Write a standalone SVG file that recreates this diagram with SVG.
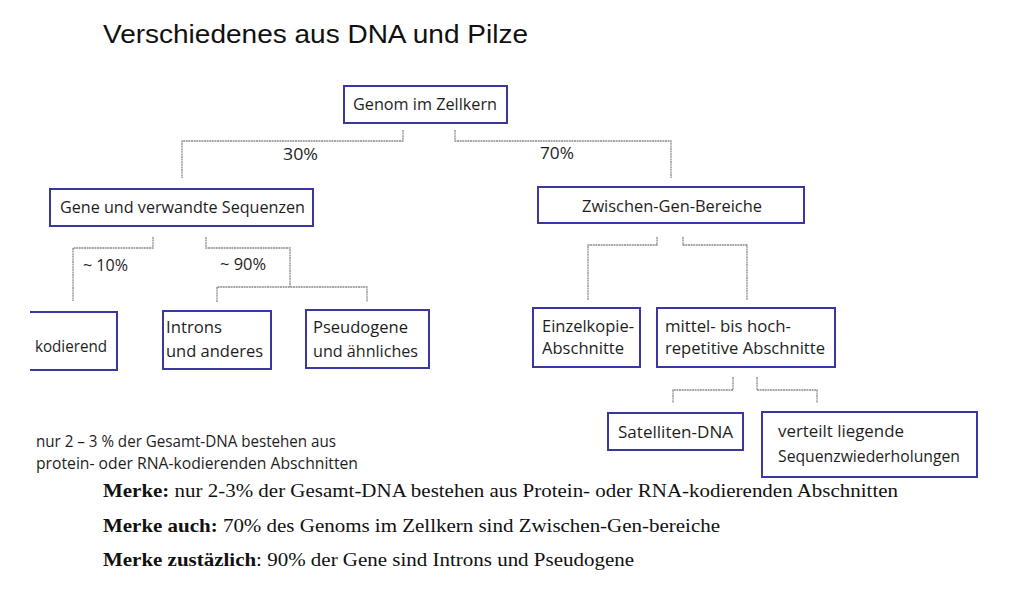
<svg xmlns="http://www.w3.org/2000/svg" width="1021" height="595" viewBox="0 0 1021 595">
<style>
.box{fill:#fff;stroke:#3b37a0;stroke-width:2}
.con{fill:none;stroke:#8a8a8a;stroke-width:1.3;stroke-dasharray:2 0.6}
.t{font-family:"Open Sans","Liberation Sans",sans-serif;font-size:16px;fill:#1e1e1e}
.m{font-family:"Liberation Serif","Times New Roman",serif;font-size:19px;fill:#111}
.b{font-weight:bold}
</style>
<rect width="1021" height="595" fill="#fff"/>
<text x="103" y="43" font-family="Liberation Sans, Arial, sans-serif" font-size="25" fill="#111" textLength="425" lengthAdjust="spacingAndGlyphs">Verschiedenes aus DNA und Pilze</text>

<g id="connectors">
<path class="con" d="M403 130V141H182V178"/>
<path class="con" d="M455 130V141H671V178"/>
<path class="con" d="M153 237V248H73V301"/>
<path class="con" d="M206 237V248H290V287"/>
<path class="con" d="M217 302V287H367V302"/>
<path class="con" d="M657 237V245H588V300"/>
<path class="con" d="M683 237V245H747V300"/>
<path class="con" d="M733 377V390H673V403"/>
<path class="con" d="M757 377V390H817V403"/>
<text class="t" x="283" y="160" textLength="35" lengthAdjust="spacingAndGlyphs">30%</text>
<text class="t" x="540" y="159" textLength="34" lengthAdjust="spacingAndGlyphs">70%</text>
<text class="t" x="83" y="271" textLength="45" lengthAdjust="spacingAndGlyphs">~ 10%</text>
<text class="t" x="220" y="270" textLength="46" lengthAdjust="spacingAndGlyphs">~ 90%</text>
</g>

<g id="genom">
<rect class="box" x="344" y="86" width="163" height="37"/>
<text class="t" x="353" y="110" textLength="144" lengthAdjust="spacingAndGlyphs">Genom im Zellkern</text>
</g>
<g id="gene">
<rect class="box" x="50" y="189" width="263" height="37"/>
<text class="t" x="60" y="213" textLength="245" lengthAdjust="spacingAndGlyphs">Gene und verwandte Sequenzen</text>
</g>
<g id="zwischen">
<rect class="box" x="538" y="187" width="266" height="36"/>
<text class="t" x="582" y="212" textLength="180" lengthAdjust="spacingAndGlyphs">Zwischen-Gen-Bereiche</text>
</g>
<g id="kodierend">
<path class="box" d="M30 312H117V370H30"/>
<text class="t" x="35" y="352" textLength="72" lengthAdjust="spacingAndGlyphs">kodierend</text>
</g>
<g id="introns">
<rect class="box" x="163" y="311" width="108" height="58"/>
<text class="t" x="166" y="333" textLength="56" lengthAdjust="spacingAndGlyphs">Introns</text>
<text class="t" x="166" y="357" textLength="97" lengthAdjust="spacingAndGlyphs">und anderes</text>
</g>
<g id="pseudogene">
<rect class="box" x="306" y="310" width="123" height="58"/>
<text class="t" x="313" y="333" textLength="95" lengthAdjust="spacingAndGlyphs">Pseudogene</text>
<text class="t" x="313" y="357" textLength="105" lengthAdjust="spacingAndGlyphs">und ähnliches</text>
</g>
<g id="einzelkopie">
<rect class="box" x="533" y="308" width="107" height="59"/>
<text class="t" x="542" y="332" textLength="92" lengthAdjust="spacingAndGlyphs">Einzelkopie-</text>
<text class="t" x="542" y="354" textLength="82" lengthAdjust="spacingAndGlyphs">Abschnitte</text>
</g>
<g id="mittel">
<rect class="box" x="657" y="308" width="178" height="59"/>
<text class="t" x="665" y="332" textLength="126" lengthAdjust="spacingAndGlyphs">mittel- bis hoch-</text>
<text class="t" x="665" y="354" textLength="160" lengthAdjust="spacingAndGlyphs">repetitive Abschnitte</text>
</g>
<g id="satelliten">
<rect class="box" x="608" y="413" width="135" height="37"/>
<text class="t" x="618" y="438" textLength="115" lengthAdjust="spacingAndGlyphs">Satelliten-DNA</text>
</g>
<g id="verteilt">
<rect class="box" x="762" y="412" width="215" height="65"/>
<text class="t" x="778" y="437" textLength="126" lengthAdjust="spacingAndGlyphs">verteilt liegende</text>
<text class="t" x="778" y="462" textLength="182" lengthAdjust="spacingAndGlyphs">Sequenzwiederholungen</text>
</g>

<g id="note">
<text class="t" x="36" y="447" textLength="300" lengthAdjust="spacingAndGlyphs">nur 2 – 3 % der Gesamt-DNA bestehen aus</text>
<text class="t" x="36" y="469" textLength="322" lengthAdjust="spacingAndGlyphs">protein- oder RNA-kodierenden Abschnitten</text>
</g>

<g id="merke">
<text class="m" x="103" y="497" textLength="795" lengthAdjust="spacingAndGlyphs"><tspan class="b">Merke:</tspan> nur 2-3% der Gesamt-DNA bestehen aus Protein- oder RNA-kodierenden Abschnitten</text>
<text class="m" x="103" y="532" textLength="617" lengthAdjust="spacingAndGlyphs"><tspan class="b">Merke auch:</tspan> 70% des Genoms im Zellkern sind Zwischen-Gen-bereiche</text>
<text class="m" x="103" y="566" textLength="531" lengthAdjust="spacingAndGlyphs"><tspan class="b">Merke zustäzlich</tspan>: 90% der Gene sind Introns und Pseudogene</text>
</g>
</svg>
